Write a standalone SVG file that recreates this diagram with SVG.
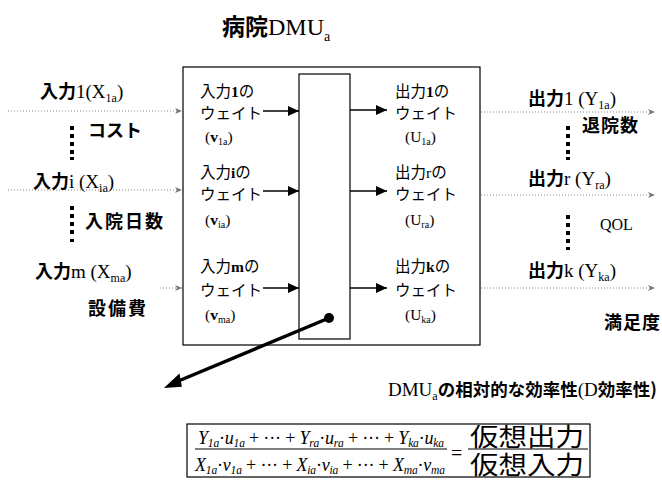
<svg xmlns="http://www.w3.org/2000/svg" width="662" height="494" viewBox="0 0 662 494">
<style>
.g{font-family:"Noto Sans CJK JP","Liberation Sans",sans-serif;font-weight:bold}
.s{font-family:"Liberation Serif","Noto Sans CJK JP",serif}
.w{font-family:"Noto Sans CJK JP","Liberation Serif",sans-serif;font-weight:normal}
.lab{font-size:18px;fill:#000}
.in{font-size:15.5px;fill:#000}
.dot{stroke:#888;stroke-width:1;stroke-dasharray:1 2;fill:none}
.arr{stroke:#000;stroke-width:1.3;fill:none}
.f{font-family:"Liberation Serif",serif;font-style:italic;font-size:18px}
.n{font-style:normal}
.sb{font-size:11.5px}
</style>
<defs>
<marker id="ga" markerWidth="8" markerHeight="8" refX="7" refY="4" orient="auto" markerUnits="userSpaceOnUse"><path d="M0,1 L7,4 L0,7 L2,4 Z" fill="#777"/></marker>
<marker id="ba" markerWidth="12" markerHeight="10" refX="11" refY="5" orient="auto" markerUnits="userSpaceOnUse"><path d="M0,0 L11,5 L0,10 Z" fill="#000"/></marker>
</defs>
<rect width="662" height="494" fill="#fff"/>

<g id="title"><text x="222" y="35" font-size="23"><tspan class="g">病院</tspan><tspan class="s" font-size="24">DMU</tspan><tspan class="s" font-size="14" dy="6">a</tspan></text></g>

<g id="dmu-box">
<rect x="183" y="67" width="297" height="278" fill="none" stroke="#000" stroke-width="1.2"/>
<rect x="299" y="74" width="51" height="265" fill="none" stroke="#000" stroke-width="1.2"/>
</g>

<g id="connectors">
<line class="dot" x1="8" y1="111" x2="182" y2="111" marker-end="url(#ga)"/>
<line class="dot" x1="8" y1="190" x2="182" y2="190" marker-end="url(#ga)"/>
<line class="dot" x1="160" y1="288" x2="182" y2="288" marker-end="url(#ga)"/>
<line class="dot" x1="481" y1="112" x2="655" y2="112" marker-end="url(#ga)"/>
<line class="dot" x1="481" y1="195" x2="655" y2="195" marker-end="url(#ga)"/>
<line class="dot" x1="481" y1="288" x2="655" y2="288" marker-end="url(#ga)"/>
<line class="arr" x1="263" y1="111" x2="299" y2="111" marker-end="url(#ba)"/>
<line class="arr" x1="263" y1="191" x2="299" y2="191" marker-end="url(#ba)"/>
<line class="arr" x1="263" y1="288" x2="299" y2="288" marker-end="url(#ba)"/>
<line class="arr" x1="350" y1="110" x2="387" y2="110" marker-end="url(#ba)"/>
<line class="arr" x1="350" y1="191" x2="387" y2="191" marker-end="url(#ba)"/>
<line class="arr" x1="350" y1="288" x2="387" y2="288" marker-end="url(#ba)"/>
<line x1="329" y1="318" x2="176" y2="382" stroke="#000" stroke-width="3.5"/>
<path d="M166,387 L179,375 L181,386 Z" fill="#000" stroke="#000" stroke-width="1.5"/>
<circle cx="329" cy="318" r="5" fill="#000"/>
</g>

<g id="input-dots" fill="#000">
<rect x="70" y="126" width="4" height="4"/><rect x="70" y="134" width="4" height="4"/><rect x="70" y="142" width="4" height="4"/><rect x="70" y="150" width="4" height="4"/><rect x="70" y="157" width="4" height="3"/>
<rect x="70" y="206" width="4" height="4"/><rect x="70" y="214" width="4" height="4"/><rect x="70" y="222" width="4" height="4"/><rect x="70" y="230" width="4" height="4"/><rect x="70" y="239" width="4" height="3"/>
<rect x="566" y="126" width="4" height="4"/><rect x="566" y="134" width="4" height="4"/><rect x="566" y="142" width="4" height="4"/><rect x="566" y="150" width="4" height="4"/><rect x="566" y="157" width="4" height="3"/>
<rect x="566" y="215" width="4" height="4"/><rect x="566" y="223" width="4" height="4"/><rect x="566" y="231" width="4" height="4"/><rect x="566" y="239" width="4" height="4"/><rect x="566" y="247" width="4" height="3"/>
</g>

<g id="input-1"><text x="40" y="98" class="lab"><tspan class="g">入力</tspan><tspan class="s" font-size="19">1(X</tspan><tspan class="s" font-size="12" dy="4">1a</tspan><tspan class="s" font-size="19" dy="-4">)</tspan></text>
<text x="88" y="137" class="lab g">コスト</text></g>
<g id="input-i"><text x="33" y="188" class="lab"><tspan class="g">入力</tspan><tspan class="s" font-size="19">i (X</tspan><tspan class="s" font-size="12" dy="4">ia</tspan><tspan class="s" font-size="19" dy="-4">)</tspan></text>
<text x="85" y="228" class="lab g" letter-spacing="2">入院日数</text></g>
<g id="input-m"><text x="35" y="278" class="lab"><tspan class="g">入力</tspan><tspan class="s" font-size="19">m (X</tspan><tspan class="s" font-size="12" dy="4">ma</tspan><tspan class="s" font-size="19" dy="-4">)</tspan></text>
<text x="88" y="315" class="lab g" letter-spacing="2">設備費</text></g>

<g id="output-1"><text x="528" y="105" class="lab"><tspan class="g">出力</tspan><tspan class="s" font-size="19">1 (Y</tspan><tspan class="s" font-size="12" dy="4">1a</tspan><tspan class="s" font-size="19" dy="-4">)</tspan></text>
<text x="582" y="132" class="lab g" letter-spacing="1">退院数</text></g>
<g id="output-r"><text x="528" y="185" class="lab"><tspan class="g">出力</tspan><tspan class="s" font-size="19">r (Y</tspan><tspan class="s" font-size="12" dy="4">ra</tspan><tspan class="s" font-size="19" dy="-4">)</tspan></text>
<text x="600" y="230" class="s" font-size="16">QOL</text></g>
<g id="output-k"><text x="528" y="277" class="lab"><tspan class="g">出力</tspan><tspan class="s" font-size="19">k (Y</tspan><tspan class="s" font-size="12" dy="4">ka</tspan><tspan class="s" font-size="19" dy="-4">)</tspan></text>
<text x="604" y="329" class="lab g" letter-spacing="1">満足度</text></g>

<g id="weight-v1" class="in">
<text x="200" y="97"><tspan class="w">入力</tspan><tspan class="s" font-weight="bold">1</tspan><tspan class="w">の</tspan></text>
<text x="200" y="119" class="w">ウェイト</text>
<text x="205" y="142" class="s"><tspan>(</tspan><tspan font-weight="bold">v</tspan><tspan font-size="10" dy="3">1a</tspan><tspan dy="-3">)</tspan></text>
</g>
<g id="weight-vi" class="in">
<text x="200" y="178"><tspan class="w">入力</tspan><tspan class="s" font-weight="bold">i</tspan><tspan class="w">の</tspan></text>
<text x="200" y="200" class="w">ウェイト</text>
<text x="205" y="225" class="s"><tspan>(</tspan><tspan font-weight="bold">v</tspan><tspan font-size="10" dy="3">ia</tspan><tspan dy="-3">)</tspan></text>
</g>
<g id="weight-vm" class="in">
<text x="200" y="272"><tspan class="w">入力</tspan><tspan class="s" font-weight="bold">m</tspan><tspan class="w">の</tspan></text>
<text x="200" y="296" class="w">ウェイト</text>
<text x="205" y="320" class="s"><tspan>(</tspan><tspan font-weight="bold">v</tspan><tspan font-size="10" dy="3">ma</tspan><tspan dy="-3">)</tspan></text>
</g>
<g id="weight-u1" class="in">
<text x="395" y="97"><tspan class="w">出力</tspan><tspan class="s" font-weight="bold">1</tspan><tspan class="w">の</tspan></text>
<text x="395" y="119" class="w">ウェイト</text>
<text x="405" y="142" class="s"><tspan>(U</tspan><tspan font-size="10" dy="3">1a</tspan><tspan dy="-3">)</tspan></text>
</g>
<g id="weight-ur" class="in">
<text x="395" y="178"><tspan class="w">出力</tspan><tspan class="s">r</tspan><tspan class="w">の</tspan></text>
<text x="395" y="200" class="w">ウェイト</text>
<text x="405" y="225" class="s"><tspan>(U</tspan><tspan font-size="10" dy="3">ra</tspan><tspan dy="-3">)</tspan></text>
</g>
<g id="weight-uk" class="in">
<text x="395" y="272"><tspan class="w">出力</tspan><tspan class="s" font-weight="bold">k</tspan><tspan class="w">の</tspan></text>
<text x="395" y="296" class="w">ウェイト</text>
<text x="405" y="320" class="s"><tspan>(U</tspan><tspan font-size="10" dy="3">ka</tspan><tspan dy="-3">)</tspan></text>
</g>

<g id="efficiency-label"><text x="388" y="396" font-size="17.5"><tspan class="s" font-size="19">DMU</tspan><tspan class="s" font-size="12" dy="4">a</tspan><tspan class="g" dy="-4">の相対的な効率性</tspan><tspan class="s" font-size="19">(D</tspan><tspan class="g">効率性)</tspan></text></g>

<g id="formula">
<rect x="187" y="424" width="403" height="53" fill="none" stroke="#000" stroke-width="1.2"/>
<line x1="195" y1="449" x2="447" y2="449" stroke="#000" stroke-width="1.2"/>
<line x1="468" y1="449" x2="588" y2="449" stroke="#000" stroke-width="1.2"/>
<text x="198" y="444" class="f" textLength="246" lengthAdjust="spacing">Y<tspan class="sb" dy="3">1a</tspan><tspan class="n" dy="-3">·</tspan>u<tspan class="sb" dy="3">1a</tspan><tspan class="n" dy="-3"> + ··· + </tspan>Y<tspan class="sb" dy="3">ra</tspan><tspan class="n" dy="-3">·</tspan>u<tspan class="sb" dy="3">ra</tspan><tspan class="n" dy="-3"> + ··· + </tspan>Y<tspan class="sb" dy="3">ka</tspan><tspan class="n" dy="-3">·</tspan>u<tspan class="sb" dy="3">ka</tspan></text>
<text x="195" y="471" class="f" textLength="250" lengthAdjust="spacing">X<tspan class="sb" dy="3">1a</tspan><tspan class="n" dy="-3">·</tspan>v<tspan class="sb" dy="3">1a</tspan><tspan class="n" dy="-3"> + ··· + </tspan>X<tspan class="sb" dy="3">ia</tspan><tspan class="n" dy="-3">·</tspan>v<tspan class="sb" dy="3">ia</tspan><tspan class="n" dy="-3"> + ··· + </tspan>X<tspan class="sb" dy="3">ma</tspan><tspan class="n" dy="-3">·</tspan>v<tspan class="sb" dy="3">ma</tspan></text>
<text x="451" y="460" class="s" font-size="20">=</text>
<text x="470" y="446" font-size="25" textLength="114" lengthAdjust="spacingAndGlyphs" font-family="Noto Sans CJK JP, sans-serif">仮想出力</text>
<text x="470" y="474" font-size="25" textLength="114" lengthAdjust="spacingAndGlyphs" font-family="Noto Sans CJK JP, sans-serif">仮想入力</text>
</g>
</svg>
